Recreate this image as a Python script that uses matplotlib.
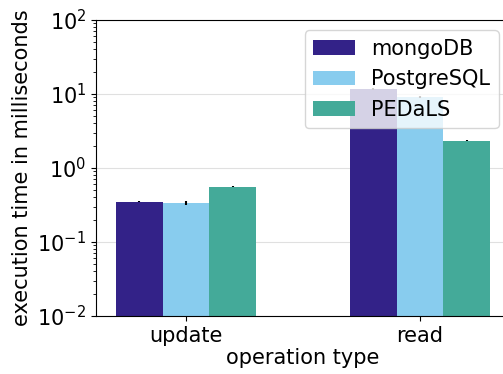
import numpy as np
import matplotlib
matplotlib.use("Agg")
import matplotlib.pyplot as plt

operations = ["update", "read"]
systems = ["mongoDB", "PostgreSQL", "PEDaLS"]
colors = ["#332288", "#88CCEE", "#44AA99"]

mongodb_ms = [0.35, 11.7]
postgres_ms = [0.34, 9.0]
pedals_ms = [0.56, 2.34]

mongodb_err = [0.006, 0.3]
postgres_err = [0.02, 0.3]
pedals_err = [0.01, 0.04]

values = [mongodb_ms, postgres_ms, pedals_ms]
errors = [mongodb_err, postgres_err, pedals_err]

plt.rcParams['font.size'] = 15

fig = plt.figure(figsize=(5.03, 3.74), dpi=100)
ax = fig.add_axes([96 / 503, 1 - 316 / 374, 413 / 503, 296 / 374])

x = np.arange(len(operations))
width = 0.2

for i, (name, vals, errs) in enumerate(zip(systems, values, errors)):
    ax.bar(
        x + (i - 1) * width,
        vals,
        width,
        yerr=errs,
        label=name,
        color=colors[i],
        ecolor="black",
        error_kw={"elinewidth": 1.5},
    )

ax.set_yscale("log")
ax.set_ylim(1e-2, 1e2)
ax.set_xlim(-0.385, 1.38)
ax.set_xticks(x)
ax.set_xticklabels(operations)
# right edge of the frame falls outside the picture in the original
ax.spines["right"].set_visible(False)

ax.set_axisbelow(True)
ax.yaxis.grid(True, which="major", color="#e0e0e0", linewidth=0.8)

ax.set_xlabel("operation type", labelpad=2)
ax.set_ylabel("execution time in milliseconds")

ax.legend(loc="upper right")

fig.savefig("out.png", dpi=100)
